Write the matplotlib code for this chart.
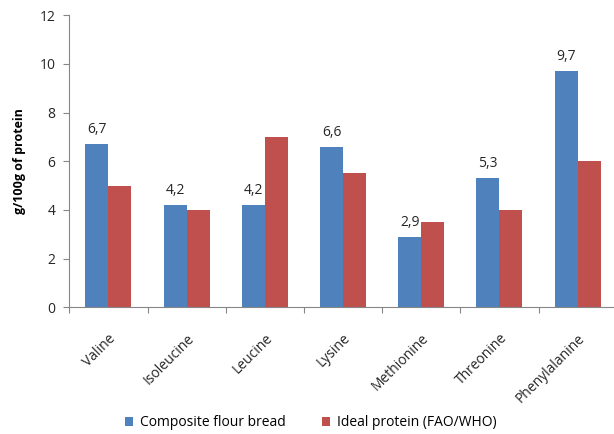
import matplotlib
matplotlib.use("Agg")
import matplotlib.pyplot as plt
import numpy as np

plt.rcParams['font.family'] = ['Open Sans', 'DejaVu Sans']

categories = ["Valine", "Isoleucine", "Leucine", "Lysine", "Methionine", "Threonine", "Phenylalanine"]
composite_bread = [6.7, 4.2, 4.2, 6.6, 2.9, 5.3, 9.7]
ideal_protein = [5.0, 4.0, 7.0, 5.5, 3.5, 4.0, 6.0]
series_names = ["Composite flour bread", "Ideal protein (FAO/WHO)"]
y_ticks = [0, 2, 4, 6, 8, 10, 12]

blue = "#4F81BD"
red = "#C0504D"
axis_gray = "#868686"

fig = plt.figure(figsize=(6.14, 4.34), dpi=100)
ax = fig.add_axes([0.1129, 0.2919, 0.8915, 0.6728])

x = np.arange(len(categories))
w = 0.294
b1 = ax.bar(x - w / 2, composite_bread, width=w, color=blue, label=series_names[0])
b2 = ax.bar(x + w / 2, ideal_protein, width=w, color=red, label=series_names[1])

for xi, v in zip(x, composite_bread):
    ax.annotate(f"{v:.1f}".replace(".", ","), (xi - w / 2, v), xytext=(0, 5),
                textcoords="offset points", ha="center", va="bottom",
                fontsize=10, color="#262626")

ax.set_xlim(-0.5, len(categories) - 0.5)
ax.set_ylim(0, 12)
ax.set_yticks(y_ticks)
ax.set_xticks(np.arange(len(categories) + 1) - 0.5, minor=False)
ax.set_xticklabels([""] * (len(categories) + 1))
ax.set_xticks(x, minor=True)
ax.set_xticklabels(categories, minor=True, rotation=45, ha="right",
                   rotation_mode="anchor", fontsize=10, color="#262626")
ax.tick_params(axis="x", which="minor", length=0, pad=17)
ax.tick_params(axis="x", which="major", length=4, color=axis_gray, width=0.8)
ax.tick_params(axis="y", length=4, color=axis_gray, width=0.8, labelsize=10,
               labelcolor="#262626", pad=6)

for s in ["top", "right"]:
    ax.spines[s].set_visible(False)
for s in ["left", "bottom"]:
    ax.spines[s].set_color(axis_gray)
    ax.spines[s].set_linewidth(0.8)

ax.set_ylabel("g/100g of protein", fontsize=9, fontweight="bold", labelpad=10)

fig.legend(handles=[b1, b2], labels=series_names, loc="center",
           bbox_to_anchor=(311 / 614, 1 - 423 / 434), ncol=2, frameon=False,
           fontsize=10, handlelength=0.6, handleheight=0.6, handletextpad=0.5,
           columnspacing=2.6)

fig.savefig("out.png", dpi=100, facecolor="white")
